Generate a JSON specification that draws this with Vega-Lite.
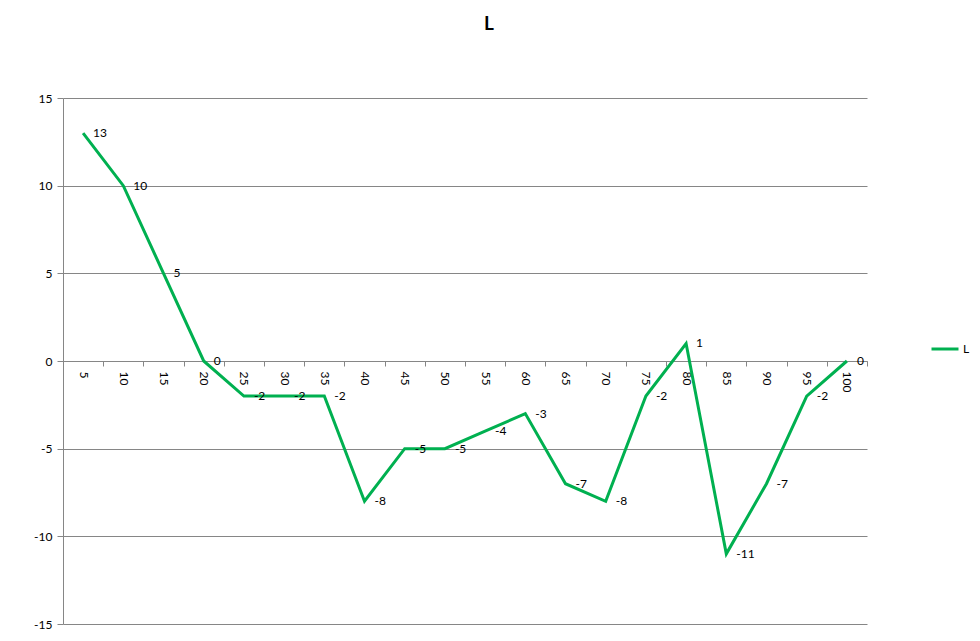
{
  "$schema": "https://vega.github.io/schema/vega-lite/v6.json",
  "description": "L",
  "width": 804,
  "height": 526,
  "autosize": "none",
  "padding": {"left": 63, "top": 98, "right": 113, "bottom": 17},
  "background": "white",
  "title": {
    "text": "L",
    "fontSize": 19,
    "fontWeight": "bold",
    "font": "Lato",
    "anchor": "middle",
    "frame": "group",
    "dx": 24,
    "offset": 58,
    "color": "black"
  },
  "data": {
    "values": [
      {"x": 5, "L": 13}, {"x": 10, "L": 10}, {"x": 15, "L": 5}, {"x": 20, "L": 0},
      {"x": 25, "L": -2}, {"x": 30, "L": -2}, {"x": 35, "L": -2}, {"x": 40, "L": -8},
      {"x": 45, "L": -5}, {"x": 50, "L": -5}, {"x": 55, "L": -4}, {"x": 60, "L": -3},
      {"x": 65, "L": -7}, {"x": 70, "L": -8}, {"x": 75, "L": -2}, {"x": 80, "L": 1},
      {"x": 85, "L": -11}, {"x": 90, "L": -7}, {"x": 95, "L": -2}, {"x": 100, "L": 0}
    ]
  },
  "encoding": {
    "x": {
      "field": "x",
      "type": "ordinal",
      "bandPosition": 0.5,
      "scale": {"type": "band", "paddingInner": 0, "paddingOuter": 0},
      "axis": {
        "title": null,
        "offset": -263,
        "tickBand": "extent",
        "tickSize": 5,
        "labelAngle": 90,
        "labelAlign": "left",
        "labelBaseline": "middle",
        "labelPadding": 5,
        "domainColor": "#868686",
        "tickColor": "#868686",
        "grid": false
      }
    },
    "y": {
      "field": "L",
      "type": "quantitative",
      "scale": {"domain": [-15, 15]},
      "axis": {
        "title": null,
        "values": [-15, -10, -5, 0, 5, 10, 15],
        "labelExpr": "replace(datum.label, '\u2212', '-')",
        "tickSize": 6,
        "labelPadding": 5,
        "domainColor": "#868686",
        "tickColor": "#868686",
        "gridColor": "#868686"
      }
    }
  },
  "layer": [
    {
      "mark": {"type": "line", "strokeWidth": 3, "strokeJoin": "miter"},
      "encoding": {
        "color": {
          "datum": "L",
          "scale": {"range": ["#00B050"]},
          "legend": {
            "title": null,
            "orient": "none",
            "legendX": 867,
            "legendY": 236,
            "symbolType": "stroke",
            "symbolStrokeWidth": 3,
            "symbolSize": 729,
            "labelOffset": 3
          }
        }
      }
    },
    {
      "mark": {"type": "text", "align": "left", "baseline": "middle", "dx": 10, "color": "black"},
      "encoding": {"text": {"field": "L", "type": "nominal"}}
    }
  ],
  "config": {
    "view": {"stroke": null},
    "font": "Lato",
    "axis": {"labelFont": "Lato", "labelFontSize": 12, "labelColor": "black"},
    "legend": {"labelFont": "Lato", "labelFontSize": 12, "labelColor": "black"},
    "text": {"font": "Lato", "fontSize": 12}
  }
}
